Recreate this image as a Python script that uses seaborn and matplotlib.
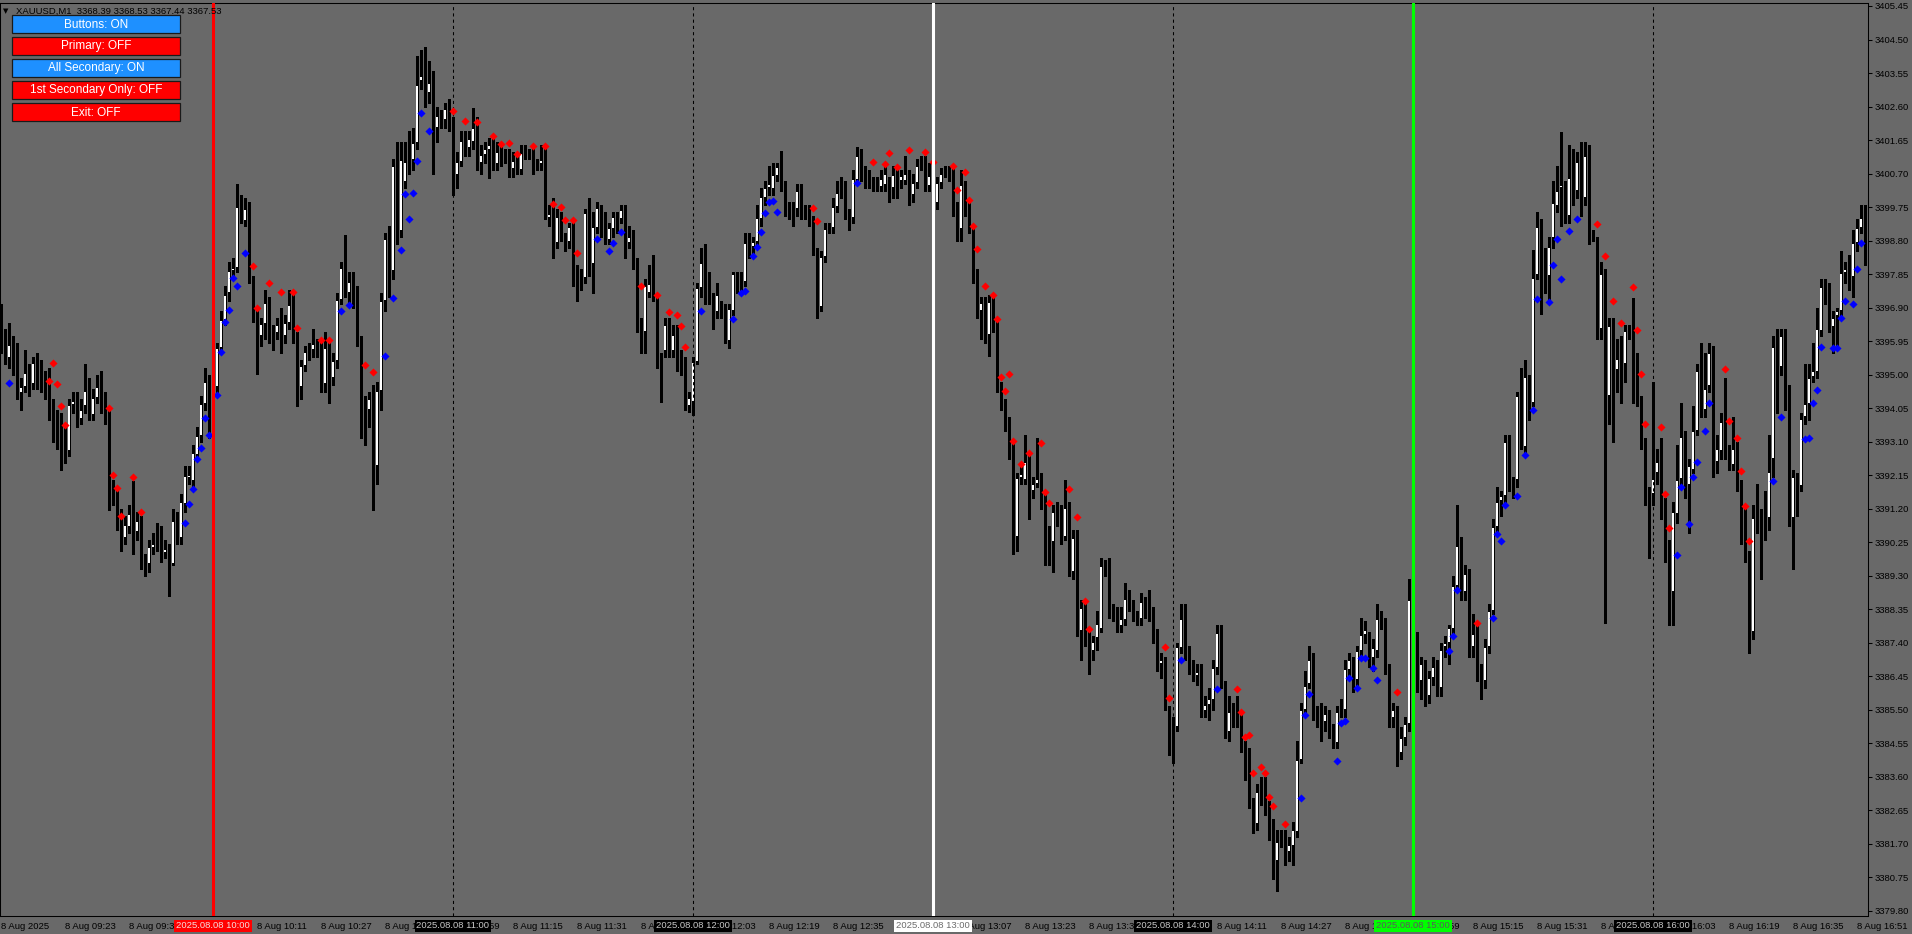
import matplotlib
matplotlib.use("Agg")
import matplotlib.pyplot as plt
import matplotlib.patches as mpatches
import matplotlib.transforms as mtransforms
import numpy as np
import pandas as pd
import seaborn as sns

# XAUUSD M1, 8 Aug 2025, one bar per minute from 09:07 to 16:53
opens = [
    3396.66, 3395.86, 3395.47, 3395.92, 3395.49, 3394.48, 3394.64, 3395.01, 3394.74, 3395.28,
    3395.06, 3394.80, 3394.64, 3393.78, 3393.44, 3393.38, 3393.17, 3392.82, 3394.13, 3394.30,
    3393.73, 3394.10, 3394.55, 3393.84, 3394.34, 3394.71, 3394.13, 3393.84, 3391.78, 3391.60,
    3390.90, 3390.37, 3390.69, 3390.99, 3390.53, 3390.90, 3389.65, 3389.62, 3390.07, 3390.18,
    3390.21, 3389.94, 3390.07, 3389.62, 3390.85, 3390.37, 3391.33, 3392.08, 3391.97, 3392.72,
    3393.25, 3394.16, 3394.80, 3393.36, 3394.64, 3395.76, 3396.56, 3397.30, 3397.94, 3398.03,
    3399.76, 3399.35, 3399.78, 3397.68, 3396.58, 3396.08, 3396.43, 3397.04, 3396.16, 3396.18,
    3396.45, 3396.08, 3396.45, 3396.98, 3396.11, 3394.64, 3395.25, 3395.68, 3395.71, 3395.81,
    3395.73, 3394.74, 3395.71, 3394.90, 3395.38, 3397.11, 3398.03, 3397.30, 3397.68, 3397.30,
    3395.94, 3394.21, 3394.00, 3394.30, 3392.40, 3394.53, 3397.09, 3398.85, 3397.94, 3400.91,
    3399.06, 3400.45, 3401.09, 3401.09, 3401.57, 3403.33, 3403.51, 3402.98, 3403.33, 3401.98,
    3402.27, 3402.23, 3402.53, 3402.08, 3400.66, 3401.04, 3401.64, 3401.41, 3401.60, 3402.03,
    3400.99, 3401.23, 3401.37, 3401.58, 3400.96, 3401.34, 3401.16, 3401.29, 3400.82, 3401.06,
    3400.80, 3401.34, 3401.27, 3401.32, 3400.97, 3400.97, 3401.16, 3399.43, 3399.52, 3398.72,
    3399.36, 3398.83, 3398.77, 3399.15, 3397.89, 3397.66, 3397.73, 3399.55, 3398.14, 3399.15,
    3399.71, 3399.48, 3398.81, 3399.12, 3399.43, 3399.41, 3399.64, 3398.72, 3398.95, 3398.15,
    3396.36, 3396.22, 3397.32, 3397.53, 3397.11, 3395.37, 3395.68, 3396.43, 3395.68, 3396.17,
    3395.56, 3395.32, 3394.11, 3394.23, 3395.37, 3397.45, 3398.20, 3397.63, 3397.21, 3396.78,
    3396.97, 3396.81, 3395.96, 3396.81, 3397.76, 3397.59, 3397.63, 3398.77, 3398.63, 3398.77,
    3399.40, 3400.00, 3400.28, 3400.25, 3400.63, 3400.85, 3400.35, 3399.76, 3399.66, 3399.69,
    3400.23, 3399.61, 3399.65, 3399.43, 3398.53, 3396.91, 3398.34, 3399.15, 3399.15, 3399.76,
    3400.21, 3400.35, 3399.61, 3399.43, 3400.52, 3401.25, 3400.66, 3400.54, 3400.44, 3400.35,
    3400.33, 3400.38, 3400.40, 3400.28, 3400.66, 3400.50, 3400.50, 3400.54, 3400.09, 3400.42,
    3400.97, 3401.06, 3400.35, 3400.63, 3399.87, 3400.42, 3400.72, 3400.72, 3400.79, 3399.77,
    3399.12, 3400.37, 3399.84, 3399.10, 3397.86, 3396.80, 3397.05, 3396.11, 3397.08, 3396.39,
    3394.69, 3394.06, 3393.64, 3392.95, 3390.40, 3392.07, 3392.01, 3392.53, 3391.69, 3391.90,
    3392.04, 3391.48, 3390.44, 3390.26, 3391.18, 3391.07, 3390.40, 3391.23, 3389.40, 3390.44,
    3387.73, 3388.39, 3387.45, 3387.17, 3387.52, 3387.79, 3389.54, 3389.51, 3388.28, 3388.14,
    3387.86, 3388.03, 3388.63, 3388.45, 3388.14, 3388.07, 3388.59, 3388.28, 3388.28, 3387.66,
    3386.78, 3386.92, 3385.43, 3385.08, 3385.01, 3387.24, 3388.07, 3387.06, 3386.82, 3386.44,
    3386.64, 3385.47, 3385.64, 3385.78, 3386.68, 3387.66, 3386.22, 3384.87, 3385.46, 3385.45,
    3385.29, 3384.49, 3383.66, 3382.78, 3382.27, 3383.02, 3382.99, 3382.78, 3382.29, 3381.21,
    3381.84, 3381.90, 3381.46, 3381.63, 3382.04, 3384.08, 3385.50, 3386.22, 3386.96, 3385.39,
    3385.47, 3385.15, 3385.33, 3384.97, 3384.55, 3385.47, 3385.50, 3386.61, 3386.89, 3386.33,
    3387.17, 3387.61, 3387.59, 3386.96, 3387.17, 3388.03, 3387.97, 3386.72, 3385.25, 3385.43,
    3384.27, 3384.69, 3385.10, 3388.89, 3387.55, 3386.30, 3386.80, 3385.90, 3386.40, 3386.70,
    3386.10, 3387.29, 3387.39, 3387.80, 3389.01, 3390.15, 3388.83, 3389.34, 3387.29, 3387.65,
    3386.60, 3386.30, 3387.29, 3388.31, 3390.68, 3391.42, 3391.55, 3393.08, 3391.95, 3392.00,
    3394.53, 3392.96, 3394.94, 3394.20, 3397.82, 3399.26, 3398.41, 3397.80, 3398.86, 3399.77,
    3400.30, 3400.30, 3399.49, 3400.61, 3400.20, 3401.04, 3400.00, 3401.18, 3398.94, 3398.73,
    3396.30, 3397.84, 3394.38, 3396.43, 3395.14, 3395.44, 3395.29, 3396.19, 3396.33, 3395.44,
    3394.28, 3393.11, 3391.57, 3391.60, 3392.20, 3392.51, 3391.34, 3390.11, 3388.83, 3391.04,
    3392.03, 3393.22, 3391.87, 3392.30, 3393.39, 3395.09, 3393.99, 3394.68, 3395.44, 3392.51,
    3392.84, 3393.67, 3392.81, 3392.44, 3392.96, 3391.93, 3390.79, 3389.92, 3387.70, 3390.94,
    3390.92, 3390.92, 3390.92, 3392.61, 3395.82, 3395.21, 3396.15, 3394.56, 3390.94, 3392.03,
    3391.85, 3393.79, 3394.16, 3394.94, 3395.07, 3396.23, 3397.47, 3397.37, 3396.36, 3396.66,
    3396.81, 3397.87, 3398.03, 3397.77, 3398.73, 3399.16, 3399.47,
]
highs = [
    3397.00, 3396.30, 3396.45, 3396.10, 3395.90, 3394.90, 3395.70, 3395.30, 3395.50, 3395.60,
    3395.40, 3395.10, 3395.20, 3394.30, 3394.00, 3393.90, 3393.50, 3394.30, 3394.50, 3394.50,
    3394.30, 3395.30, 3394.90, 3394.60, 3395.00, 3395.10, 3394.50, 3394.00, 3392.00, 3391.80,
    3391.20, 3391.00, 3391.30, 3391.97, 3391.10, 3391.00, 3389.90, 3390.30, 3390.50, 3390.80,
    3390.70, 3390.30, 3390.20, 3391.20, 3391.10, 3391.60, 3392.40, 3392.40, 3393.00, 3393.50,
    3394.40, 3395.20, 3395.00, 3394.90, 3395.90, 3396.80, 3397.50, 3398.20, 3398.30, 3400.40,
    3400.10, 3400.00, 3399.90, 3397.80, 3396.80, 3396.60, 3397.40, 3397.20, 3396.40, 3396.60,
    3396.90, 3396.70, 3397.40, 3397.30, 3396.20, 3395.40, 3395.80, 3395.90, 3396.30, 3396.00,
    3396.00, 3396.20, 3396.00, 3395.60, 3397.30, 3398.20, 3398.96, 3397.90, 3397.90, 3397.50,
    3396.10, 3394.40, 3394.50, 3394.70, 3394.80, 3397.30, 3399.00, 3399.20, 3401.10, 3401.60,
    3401.60, 3401.60, 3401.90, 3402.00, 3404.02, 3404.20, 3404.30, 3403.90, 3403.60, 3402.60,
    3402.50, 3402.70, 3402.80, 3402.30, 3401.30, 3401.90, 3401.90, 3401.90, 3402.55, 3402.30,
    3401.50, 3401.60, 3401.70, 3401.70, 3401.60, 3401.50, 3401.40, 3401.40, 3401.30, 3401.30,
    3401.50, 3401.50, 3401.40, 3401.50, 3401.10, 3401.50, 3401.40, 3399.80, 3400.00, 3399.70,
    3399.60, 3399.00, 3399.30, 3399.30, 3398.10, 3398.00, 3399.70, 3400.00, 3399.60, 3399.90,
    3399.80, 3399.60, 3399.30, 3399.60, 3399.60, 3399.80, 3399.80, 3399.20, 3399.10, 3398.30,
    3396.60, 3397.70, 3398.10, 3398.40, 3397.30, 3395.60, 3396.60, 3396.60, 3396.40, 3396.40,
    3395.70, 3395.50, 3394.50, 3395.50, 3397.60, 3398.60, 3398.70, 3397.90, 3397.30, 3397.60,
    3397.10, 3397.00, 3397.00, 3397.90, 3397.90, 3397.90, 3399.00, 3399.00, 3398.90, 3399.80,
    3400.30, 3400.50, 3400.90, 3401.00, 3401.00, 3401.33, 3400.50, 3399.90, 3399.90, 3400.40,
    3400.40, 3399.80, 3399.80, 3399.50, 3398.60, 3398.50, 3399.30, 3399.30, 3400.00, 3400.50,
    3400.60, 3400.50, 3399.70, 3400.80, 3401.45, 3401.40, 3400.90, 3400.80, 3400.60, 3400.60,
    3400.80, 3400.90, 3400.60, 3400.90, 3400.90, 3400.80, 3401.20, 3400.80, 3400.70, 3401.10,
    3401.20, 3401.20, 3401.00, 3400.80, 3400.60, 3400.85, 3400.90, 3400.90, 3400.95, 3399.90,
    3400.80, 3400.50, 3400.00, 3399.20, 3398.00, 3397.20, 3397.20, 3397.25, 3397.20, 3396.50,
    3394.80, 3394.30, 3393.80, 3393.10, 3392.20, 3392.40, 3393.30, 3392.70, 3392.10, 3393.20,
    3392.20, 3391.60, 3390.70, 3391.30, 3391.40, 3391.30, 3392.00, 3391.40, 3390.60, 3390.60,
    3388.60, 3388.60, 3387.70, 3387.60, 3388.30, 3389.80, 3389.75, 3389.80, 3388.50, 3388.40,
    3388.40, 3389.10, 3388.90, 3388.60, 3388.30, 3388.80, 3388.70, 3388.90, 3388.40, 3387.80,
    3387.10, 3387.00, 3385.60, 3385.30, 3387.40, 3388.50, 3388.50, 3387.30, 3386.90, 3386.80,
    3386.80, 3385.90, 3386.10, 3386.90, 3387.90, 3387.90, 3386.30, 3385.90, 3385.70, 3385.90,
    3385.40, 3384.60, 3384.40, 3383.00, 3383.40, 3383.60, 3383.60, 3382.90, 3382.40, 3382.10,
    3382.10, 3382.10, 3381.90, 3382.30, 3384.60, 3385.70, 3386.60, 3387.30, 3387.10, 3385.60,
    3385.70, 3385.60, 3385.50, 3385.10, 3385.60, 3385.80, 3386.90, 3387.10, 3387.00, 3387.30,
    3388.10, 3388.00, 3387.70, 3387.50, 3388.50, 3388.30, 3388.10, 3386.80, 3385.70, 3385.60,
    3385.00, 3385.30, 3389.20, 3389.57, 3387.70, 3387.00, 3386.90, 3386.60, 3387.00, 3386.90,
    3387.40, 3387.60, 3387.90, 3389.30, 3391.30, 3390.40, 3389.60, 3389.50, 3388.20, 3387.90,
    3386.80, 3387.50, 3388.50, 3390.90, 3391.80, 3391.70, 3393.30, 3393.30, 3392.10, 3394.50,
    3395.20, 3395.40, 3395.00, 3398.53, 3399.60, 3399.40, 3398.60, 3398.90, 3400.50, 3400.90,
    3401.87, 3400.50, 3401.50, 3401.40, 3401.30, 3401.60, 3401.60, 3401.50, 3399.10, 3398.90,
    3398.20, 3398.00, 3396.60, 3396.60, 3396.00, 3396.10, 3396.40, 3396.40, 3397.17, 3395.60,
    3394.40, 3393.20, 3391.80, 3394.79, 3392.90, 3393.20, 3391.50, 3390.30, 3391.40, 3393.00,
    3394.20, 3393.40, 3392.60, 3394.10, 3395.30, 3395.90, 3395.60, 3395.90, 3395.80, 3393.30,
    3393.90, 3394.90, 3393.00, 3393.80, 3393.10, 3392.00, 3391.20, 3390.00, 3391.30, 3391.90,
    3391.20, 3391.70, 3393.30, 3396.10, 3396.30, 3396.30, 3396.30, 3394.70, 3392.30, 3392.20,
    3393.90, 3395.30, 3395.30, 3395.90, 3396.90, 3397.70, 3397.70, 3397.60, 3396.80, 3396.90,
    3398.50, 3398.20, 3398.40, 3399.10, 3399.40, 3399.80, 3399.80,
]
lows = [
    3395.60, 3395.30, 3395.20, 3395.00, 3394.30, 3394.00, 3394.50, 3394.40, 3394.60, 3394.60,
    3394.50, 3394.30, 3393.70, 3393.10, 3392.90, 3392.30, 3392.50, 3392.70, 3393.90, 3393.50,
    3393.60, 3393.90, 3393.70, 3393.70, 3394.20, 3393.90, 3393.60, 3391.17, 3391.30, 3390.60,
    3390.00, 3390.20, 3390.50, 3389.90, 3390.30, 3389.50, 3389.30, 3389.40, 3389.90, 3390.00,
    3389.70, 3389.80, 3388.72, 3389.60, 3390.20, 3390.20, 3391.10, 3391.90, 3391.80, 3392.60,
    3393.10, 3394.00, 3393.20, 3393.20, 3394.50, 3395.60, 3396.40, 3397.10, 3397.80, 3397.90,
    3399.30, 3399.20, 3397.60, 3396.50, 3395.01, 3395.80, 3396.00, 3395.90, 3395.70, 3396.00,
    3395.60, 3395.90, 3396.30, 3395.90, 3394.10, 3394.30, 3395.10, 3395.40, 3395.50, 3395.50,
    3394.50, 3394.50, 3394.20, 3394.70, 3395.20, 3397.00, 3397.20, 3397.00, 3396.90, 3395.80,
    3393.20, 3393.00, 3393.50, 3391.17, 3391.90, 3394.00, 3396.80, 3397.20, 3397.70, 3398.70,
    3398.90, 3400.30, 3400.70, 3400.80, 3401.40, 3403.10, 3402.60, 3402.70, 3400.70, 3401.60,
    3402.00, 3402.00, 3401.90, 3400.10, 3400.30, 3400.90, 3401.20, 3401.20, 3401.40, 3400.80,
    3400.70, 3401.00, 3400.56, 3400.80, 3400.80, 3400.90, 3401.00, 3400.60, 3400.60, 3400.70,
    3400.70, 3401.10, 3401.10, 3400.70, 3400.80, 3400.80, 3399.40, 3399.20, 3398.30, 3398.60,
    3398.80, 3398.50, 3398.60, 3397.50, 3397.10, 3397.40, 3397.60, 3397.80, 3397.30, 3399.00,
    3398.90, 3398.70, 3398.70, 3398.90, 3399.00, 3399.30, 3398.30, 3398.60, 3398.00, 3396.20,
    3395.60, 3395.60, 3397.20, 3397.10, 3395.20, 3394.23, 3395.50, 3395.50, 3395.50, 3395.10,
    3395.00, 3394.00, 3393.95, 3393.85, 3395.30, 3397.20, 3397.00, 3397.00, 3396.30, 3396.60,
    3396.60, 3395.90, 3395.75, 3396.70, 3397.30, 3397.40, 3397.50, 3398.30, 3398.30, 3398.60,
    3399.20, 3399.80, 3400.10, 3400.10, 3400.50, 3400.20, 3399.50, 3399.40, 3399.20, 3399.50,
    3399.40, 3399.40, 3399.20, 3398.40, 3396.60, 3396.80, 3398.20, 3399.00, 3399.00, 3399.60,
    3400.00, 3399.40, 3399.10, 3399.30, 3400.40, 3400.50, 3400.30, 3400.30, 3400.20, 3400.20,
    3400.20, 3400.20, 3399.90, 3400.00, 3400.00, 3400.30, 3400.40, 3399.80, 3399.90, 3400.30,
    3400.80, 3400.20, 3400.20, 3399.80, 3399.70, 3400.30, 3400.60, 3400.50, 3399.50, 3398.80,
    3398.80, 3399.50, 3399.00, 3397.60, 3396.60, 3396.00, 3395.90, 3395.52, 3396.20, 3394.50,
    3394.00, 3393.40, 3392.60, 3389.90, 3390.00, 3391.90, 3391.90, 3390.90, 3391.50, 3391.80,
    3391.20, 3389.60, 3389.60, 3389.40, 3390.70, 3390.20, 3390.30, 3389.30, 3389.20, 3387.60,
    3386.90, 3387.30, 3386.50, 3386.90, 3387.20, 3387.70, 3389.30, 3388.10, 3388.00, 3387.70,
    3387.70, 3387.90, 3388.30, 3388.00, 3387.90, 3387.90, 3388.10, 3388.00, 3387.40, 3386.60,
    3386.40, 3385.50, 3384.20, 3384.00, 3384.90, 3387.10, 3386.90, 3386.50, 3386.30, 3386.20,
    3385.30, 3385.30, 3385.20, 3385.50, 3386.50, 3386.10, 3384.70, 3384.60, 3385.00, 3385.00,
    3384.30, 3383.50, 3382.70, 3382.00, 3382.10, 3382.80, 3382.50, 3381.80, 3380.70, 3380.37,
    3381.60, 3381.10, 3381.20, 3381.10, 3381.90, 3384.00, 3385.30, 3386.10, 3385.20, 3385.00,
    3384.60, 3384.90, 3384.70, 3384.40, 3384.40, 3385.30, 3385.30, 3386.40, 3386.00, 3386.10,
    3387.00, 3387.40, 3386.70, 3386.60, 3387.00, 3387.80, 3386.50, 3385.00, 3385.00, 3383.90,
    3384.10, 3384.50, 3384.90, 3387.40, 3386.00, 3385.80, 3385.60, 3385.70, 3386.20, 3385.90,
    3385.90, 3387.00, 3386.80, 3387.60, 3388.90, 3388.60, 3388.60, 3387.00, 3387.00, 3386.30,
    3385.80, 3386.10, 3387.10, 3388.20, 3390.50, 3391.00, 3391.40, 3391.70, 3391.50, 3391.80,
    3392.90, 3392.80, 3393.70, 3394.10, 3397.70, 3396.71, 3397.30, 3397.00, 3398.60, 3399.60,
    3399.20, 3399.30, 3399.30, 3399.80, 3400.00, 3399.50, 3399.80, 3398.70, 3398.80, 3396.00,
    3396.00, 3387.95, 3393.60, 3393.10, 3394.50, 3394.20, 3394.80, 3396.00, 3394.20, 3394.10,
    3392.90, 3391.30, 3389.80, 3391.30, 3391.90, 3390.90, 3389.70, 3387.90, 3387.90, 3390.80,
    3391.90, 3391.50, 3390.50, 3392.20, 3393.30, 3393.80, 3393.80, 3394.50, 3392.10, 3392.20,
    3392.60, 3392.60, 3392.30, 3392.30, 3391.70, 3390.20, 3389.70, 3387.10, 3387.50, 3390.50,
    3389.20, 3390.30, 3390.60, 3392.10, 3393.90, 3395.00, 3394.00, 3390.70, 3389.50, 3391.00,
    3391.70, 3393.60, 3393.70, 3394.80, 3394.90, 3396.10, 3397.00, 3396.20, 3395.60, 3395.80,
    3396.60, 3397.60, 3397.40, 3397.20, 3398.50, 3399.00, 3398.10,
]
closes = [
    3395.92, 3395.54, 3395.83, 3395.49, 3394.64, 3394.64, 3395.04, 3394.74, 3395.33, 3395.06,
    3394.80, 3394.69, 3393.84, 3393.46, 3393.41, 3393.20, 3392.85, 3394.14, 3394.26, 3393.73,
    3394.00, 3394.53, 3393.84, 3394.34, 3394.64, 3394.05, 3393.84, 3391.78, 3391.54, 3390.69,
    3390.48, 3390.74, 3391.04, 3390.53, 3390.85, 3389.65, 3389.60, 3390.10, 3390.21, 3390.24,
    3389.94, 3390.05, 3389.65, 3390.85, 3390.39, 3391.38, 3392.13, 3392.15, 3392.77, 3393.27,
    3394.16, 3394.80, 3393.36, 3394.64, 3395.76, 3396.56, 3397.27, 3397.94, 3398.03, 3399.76,
    3399.65, 3399.70, 3397.68, 3396.66, 3396.00, 3396.43, 3397.04, 3396.13, 3396.18, 3396.40,
    3396.02, 3396.45, 3396.98, 3396.08, 3394.69, 3395.25, 3395.65, 3395.71, 3395.86, 3395.71,
    3394.69, 3395.76, 3394.90, 3395.38, 3397.11, 3398.03, 3397.30, 3397.62, 3397.30, 3395.92,
    3394.16, 3394.00, 3394.30, 3392.24, 3394.53, 3397.09, 3398.85, 3397.94, 3400.91, 3399.06,
    3401.09, 3401.04, 3400.93, 3401.57, 3403.22, 3403.47, 3402.87, 3403.28, 3401.91, 3402.34,
    3402.26, 3402.53, 3402.21, 3400.66, 3401.04, 3401.62, 3401.41, 3401.68, 3401.98, 3401.01,
    3401.23, 3401.39, 3401.51, 3400.94, 3401.32, 3401.16, 3401.23, 3400.82, 3401.06, 3400.89,
    3401.27, 3401.27, 3401.25, 3400.94, 3400.96, 3401.08, 3399.46, 3399.54, 3398.72, 3399.48,
    3398.91, 3398.72, 3399.19, 3397.87, 3397.63, 3397.70, 3399.57, 3398.34, 3399.17, 3399.71,
    3399.12, 3398.80, 3399.15, 3399.46, 3399.31, 3399.66, 3398.89, 3398.89, 3398.13, 3396.36,
    3396.22, 3397.51, 3397.57, 3397.30, 3395.37, 3395.35, 3396.41, 3395.68, 3396.12, 3395.65,
    3395.32, 3394.11, 3394.33, 3395.37, 3397.45, 3398.15, 3397.61, 3397.16, 3396.74, 3397.26,
    3396.78, 3395.96, 3396.85, 3397.85, 3397.54, 3397.63, 3398.74, 3398.51, 3398.77, 3399.43,
    3400.03, 3400.28, 3400.40, 3400.66, 3400.88, 3400.31, 3399.71, 3399.66, 3399.71, 3400.21,
    3399.52, 3399.60, 3399.40, 3398.53, 3396.85, 3398.34, 3399.12, 3399.17, 3399.76, 3400.16,
    3400.22, 3399.59, 3399.33, 3400.54, 3401.20, 3400.66, 3400.49, 3400.47, 3400.35, 3400.34,
    3400.54, 3400.69, 3400.09, 3400.66, 3400.47, 3400.63, 3400.69, 3400.04, 3400.42, 3400.91,
    3401.03, 3400.35, 3400.63, 3399.95, 3400.42, 3400.68, 3400.74, 3400.70, 3399.81, 3399.12,
    3400.37, 3399.70, 3399.12, 3397.86, 3396.80, 3397.03, 3396.05, 3397.05, 3396.33, 3394.72,
    3394.20, 3393.60, 3392.91, 3390.40, 3392.07, 3392.18, 3392.53, 3391.69, 3391.90, 3392.04,
    3391.37, 3390.48, 3390.30, 3391.10, 3391.00, 3390.44, 3391.23, 3389.40, 3390.37, 3387.73,
    3388.39, 3387.45, 3387.20, 3387.42, 3387.93, 3389.56, 3389.56, 3388.25, 3388.27, 3387.86,
    3388.07, 3388.63, 3388.45, 3388.14, 3388.03, 3388.56, 3388.25, 3388.21, 3387.61, 3386.78,
    3386.92, 3385.64, 3385.05, 3385.01, 3387.28, 3388.07, 3387.03, 3386.78, 3386.47, 3386.58,
    3385.50, 3385.64, 3385.80, 3386.68, 3387.66, 3386.26, 3384.87, 3385.43, 3385.47, 3385.43,
    3384.52, 3383.66, 3382.82, 3382.27, 3383.16, 3383.03, 3382.78, 3382.27, 3381.15, 3381.76,
    3381.85, 3381.35, 3381.67, 3382.09, 3384.08, 3385.50, 3386.17, 3386.92, 3385.39, 3385.38,
    3385.19, 3385.39, 3384.97, 3384.55, 3385.43, 3385.52, 3386.64, 3386.92, 3386.26, 3387.17,
    3387.61, 3387.75, 3386.92, 3387.24, 3388.07, 3387.93, 3386.75, 3385.25, 3385.50, 3384.24,
    3384.69, 3385.10, 3388.60, 3387.55, 3386.30, 3386.80, 3385.90, 3386.40, 3386.70, 3386.10,
    3387.19, 3387.39, 3387.82, 3389.01, 3390.13, 3388.83, 3389.34, 3387.31, 3387.65, 3386.60,
    3386.20, 3387.29, 3388.31, 3390.68, 3391.39, 3391.55, 3393.08, 3391.93, 3391.83, 3394.40,
    3393.01, 3394.94, 3394.20, 3397.74, 3399.19, 3398.35, 3397.72, 3398.61, 3399.87, 3400.20,
    3400.38, 3399.46, 3400.58, 3400.41, 3401.04, 3400.00, 3401.21, 3398.94, 3398.92, 3396.30,
    3397.84, 3394.23, 3396.39, 3395.01, 3395.44, 3395.31, 3396.23, 3396.23, 3395.41, 3394.33,
    3393.11, 3391.60, 3391.55, 3392.03, 3392.51, 3391.26, 3390.08, 3388.83, 3391.09, 3392.00,
    3393.22, 3391.75, 3392.41, 3393.39, 3395.11, 3393.92, 3394.60, 3395.60, 3392.51, 3392.88,
    3393.65, 3392.78, 3392.51, 3392.88, 3391.90, 3390.82, 3389.94, 3387.70, 3390.92, 3390.99,
    3390.84, 3390.84, 3392.23, 3395.78, 3395.27, 3396.10, 3394.56, 3390.86, 3392.10, 3391.87,
    3393.75, 3394.16, 3394.91, 3395.11, 3396.28, 3397.47, 3397.37, 3396.36, 3396.59, 3396.79,
    3397.87, 3397.98, 3397.77, 3398.72, 3399.16, 3399.44, 3399.49,
]

# indicator arrows (bar index, price)
sell_bars = [12, 13, 14, 15, 16, 27, 28, 29, 30, 33, 35, 63, 64, 67, 70, 73, 74, 80, 82, 91,
             93, 113, 116, 119, 123, 125, 127, 129, 133, 136, 138, 140, 141, 143, 144, 160, 164,
             167, 169, 170, 171, 203, 204, 218, 221, 222, 224, 227, 231, 233, 238, 239, 241,
             242, 243, 244, 246, 248, 249, 250, 251, 252, 253, 255, 257, 260, 261, 262, 267,
             269, 271, 272, 291, 292, 309, 310, 311, 312, 313, 315, 316, 317, 318, 321, 349,
             369, 399, 401, 403, 405, 408, 409, 410, 411, 415, 416, 417, 431, 432, 434, 435,
             436, 437]
sell_prices = [3394.82, 3395.33, 3394.73, 3394.10, 3393.57, 3394.05, 3392.15, 3391.78, 3390.99,
               3392.11, 3391.11, 3398.07, 3396.88, 3397.60, 3397.34, 3397.34, 3396.31, 3395.97,
               3395.97, 3395.28, 3395.06, 3402.48, 3402.19, 3402.15, 3401.75, 3401.53, 3401.56,
               3401.24, 3401.47, 3401.47, 3399.83, 3399.75, 3399.38, 3399.38, 3398.44, 3397.51,
               3397.25, 3396.76, 3396.68, 3396.37, 3395.77, 3399.71, 3399.34, 3401.02, 3400.96,
               3401.27, 3400.88, 3401.36, 3401.30, 3401.02, 3400.90, 3400.23, 3400.73, 3399.95,
               3399.20, 3398.56, 3397.50, 3397.25, 3396.57, 3394.94, 3394.52, 3395.01, 3393.13,
               3392.46, 3392.77, 3393.07, 3391.68, 3391.35, 3391.76, 3390.96, 3388.59, 3387.78,
               3387.27, 3385.83, 3386.08, 3385.44, 3384.72, 3384.77, 3383.71, 3383.88, 3383.71,
               3383.02, 3382.77, 3382.27, 3386.00, 3387.97, 3399.26, 3398.36, 3397.08, 3396.46,
               3397.48, 3396.25, 3395.01, 3393.59, 3393.51, 3391.61, 3390.64, 3395.15, 3393.67,
               3393.20, 3392.28, 3391.27, 3390.28]
buy_bars = [2, 46, 47, 48, 49, 50, 51, 52, 54, 55, 56, 57, 58, 59, 61, 85, 87, 96, 98, 100, 101,
            102, 103, 104, 105, 107, 149, 152, 153, 155, 175, 183, 185, 186, 188, 189, 190, 191,
            192, 193, 194, 214, 295, 304, 325, 326, 327, 334, 335, 336, 337, 339, 340, 341, 343,
            344, 362, 363, 364, 373, 374, 375, 376, 379, 381, 383, 384, 387, 388, 389, 390, 392,
            394, 419, 420, 422, 423, 424, 426, 427, 443, 445, 451, 452, 453, 454, 455, 458, 459,
            460, 461, 463, 464, 465]
buy_prices = [3394.77, 3390.79, 3391.33, 3391.76, 3392.61, 3392.91, 3393.76, 3393.28, 3394.42,
              3395.63, 3396.49, 3396.82, 3397.73, 3397.51, 3398.44, 3396.79, 3396.96, 3395.54,
              3397.17, 3398.53, 3400.13, 3399.40, 3400.16, 3401.05, 3402.43, 3401.90, 3398.83,
              3398.49, 3398.72, 3399.03, 3396.79, 3396.58, 3397.31, 3397.36, 3398.35, 3398.61,
              3399.03, 3399.59, 3399.89, 3399.91, 3399.60, 3400.42, 3386.92, 3386.08, 3382.99,
              3385.36, 3385.94, 3384.05, 3385.11, 3385.19, 3386.39, 3386.11, 3386.97, 3386.95,
              3386.69, 3386.33, 3387.16, 3387.59, 3388.88, 3388.09, 3390.47, 3390.27, 3391.29,
              3391.55, 3392.71, 3393.99, 3397.14, 3397.07, 3398.10, 3398.84, 3397.70, 3399.06,
              3399.40, 3389.88, 3391.81, 3390.76, 3392.11, 3392.52, 3393.40, 3394.19, 3391.97,
              3393.79, 3393.16, 3393.20, 3394.18, 3394.55, 3395.78, 3395.75, 3395.75, 3396.59,
              3397.10, 3396.99, 3397.98, 3398.73]

time_labels = ["8 Aug 2025", "8 Aug 09:23", "8 Aug 09:39", "8 Aug 09:55", "8 Aug 10:11",
               "8 Aug 10:27", "8 Aug 10:43", "8 Aug 10:59", "8 Aug 11:15", "8 Aug 11:31",
               "8 Aug 11:47", "8 Aug 12:03", "8 Aug 12:19", "8 Aug 12:35", "8 Aug 12:51",
               "8 Aug 13:07", "8 Aug 13:23", "8 Aug 13:39", "8 Aug 13:55", "8 Aug 14:11",
               "8 Aug 14:27", "8 Aug 14:43", "8 Aug 14:59", "8 Aug 15:15", "8 Aug 15:31",
               "8 Aug 15:47", "8 Aug 16:03", "8 Aug 16:19", "8 Aug 16:35", "8 Aug 16:51"]
price_ticks = [3379.80, 3380.75, 3381.70, 3382.65, 3383.60, 3384.55, 3385.50, 3386.45, 3387.40,
               3388.35, 3389.30, 3390.25, 3391.20, 3392.15, 3393.10, 3394.05, 3395.00, 3395.95,
               3396.90, 3397.85, 3398.80, 3399.75, 3400.70, 3401.65, 3402.60, 3403.55, 3404.50,
               3405.45]

# hour separators: bar index, stamp, line colour, stamp background, stamp text colour
hour_bars = [53, 113, 173, 233, 293, 353, 413]
hour_text = ["2025.08.08 10:00", "2025.08.08 11:00", "2025.08.08 12:00", "2025.08.08 13:00",
             "2025.08.08 14:00", "2025.08.08 15:00", "2025.08.08 16:00"]
hour_line = ["#ff0000", "black", "black", "white", "black", "#00ff00", "black"]
hour_box = ["#ff0000", "black", "black", "white", "black", "#00ff00", "black"]
hour_fg = ["#f4dede", "#c8c8c8", "#c8c8c8", "#6c6c6c", "#c8c8c8", "#5a5a5a", "#c8c8c8"]

buttons = ["Buttons: ON", "Primary: OFF", "All Secondary: ON", "1st Secondary Only: OFF", "Exit: OFF"]
button_colors = ["#1e90ff", "#ff0000", "#1e90ff", "#ff0000", "#ff0000"]

BG = "#696969"
W, H = 1912, 934
PX = 25.885 / 913  # price per screen pixel

sns.set_theme(style="white")
plt.rcParams["font.family"] = ["Liberation Sans", "DejaVu Sans"]
plt.rcParams["axes.linewidth"] = 0.75

df = pd.DataFrame({"open": opens, "high": highs, "low": lows, "close": closes})
df["body_lo"] = df[["open", "close"]].min(axis=1)
df["body_hi"] = df[["open", "close"]].max(axis=1)
bull = df[df["close"] - df["open"] > 2.2 * PX]

fig = plt.figure(figsize=(W / 100, H / 100), dpi=100, facecolor=BG)
ax = fig.add_axes([0, (H - 916) / H, 1868 / W, 913 / H])
ax.set_facecolor(BG)
ax.set_xlim(-0.25, 466.75)
ax.set_ylim(3379.649, 3405.535)

# candles: black wick + 3px black body, bullish bodies hollowed out in white
ax.vlines(df.index, np.minimum(df["low"], df["body_lo"]), np.maximum(df["high"], df["body_hi"]),
          colors="black", linewidth=0.75, zorder=2, antialiased=False)
ax.bar(df.index, (df["body_hi"] - df["body_lo"]).clip(lower=PX), bottom=df["body_lo"], width=0.72,
       color="black", linewidth=0, zorder=3, antialiased=False)
ax.bar(bull.index, bull["close"] - bull["open"] - 2 * PX, bottom=bull["open"] + PX, width=0.3,
       color="white", linewidth=0, zorder=4, antialiased=False)

sns.scatterplot(x=sell_bars, y=sell_prices, marker="D", color="#ff0000", s=17, linewidth=0,
                ax=ax, zorder=5, legend=False)
sns.scatterplot(x=buy_bars, y=buy_prices, marker="D", color="#0000ff", s=17, linewidth=0,
                ax=ax, zorder=5, legend=False)

lab_tr = mtransforms.blended_transform_factory(ax.transData, fig.transFigure)
for b, txt, lc, bc, fc in zip(hour_bars, hour_text, hour_line, hour_box, hour_fg):
    if lc == "black":
        ax.axvline(b, color="black", linewidth=0.75, linestyle=(0, (3, 3)), zorder=4)
    else:
        ax.axvline(b, color=lc, linewidth=2.2, zorder=6)
    ax.text(b, (H - 926) / H, txt, transform=lab_tr, ha="center", va="center", fontsize=6.8,
            color=fc, clip_on=False, zorder=10,
            bbox=dict(boxstyle="square,pad=0.18", fc=bc, ec="none"))

for s in ax.spines.values():
    s.set_color("black")
    s.set_linewidth(0.75)

ax.yaxis.tick_right()
ax.set_yticks(price_ticks)
ax.set_yticklabels([f"{v:.2f}" for v in price_ticks])
ax.tick_params(axis="y", direction="out", length=3, width=0.75, colors="black", labelsize=6.8, pad=1.5)
ax.set_xticks(range(0, 16 * len(time_labels), 16))
ax.set_xticklabels(time_labels, ha="left")
ax.tick_params(axis="x", direction="out", length=3, width=0.75, colors="black", labelsize=6.8, pad=1.5)
ax.grid(False)


def px(x, y):
    return x / W, (H - y) / H


fig.text(*px(3, 11), "\u25bc", fontsize=5, color="black", va="center", ha="left",
         family=["DejaVu Sans"])
fig.text(*px(16, 11), "XAUUSD,M1  3368.39 3368.53 3367.44 3367.53", fontsize=6.8,
         color="black", va="center", ha="left")

for k, (label, col) in enumerate(zip(buttons, button_colors)):
    top = 15 + 22 * k
    x0, y0 = px(12, top + 18)
    fig.patches.append(mpatches.Rectangle((x0, y0), 168 / W, 18 / H, transform=fig.transFigure,
                                          facecolor=col, edgecolor="#1a1a1a", linewidth=0.9,
                                          zorder=20))
    fig.text(*px(96, top + 9.5), label, fontsize=8.5, color="white", ha="center", va="center",
             zorder=21)

fig.savefig("out.png", dpi=100, facecolor=BG)
